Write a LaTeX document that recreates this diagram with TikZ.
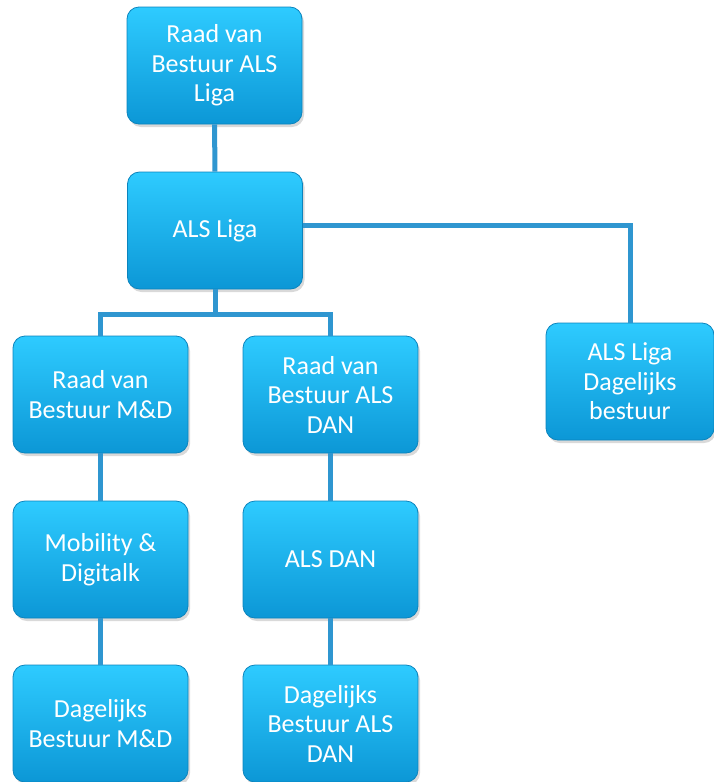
\documentclass[tikz,border=0pt]{standalone}
\usepackage{fontspec}
\setmainfont{Carlito}
\usetikzlibrary{shadows}
\definecolor{boxtop}{HTML}{2ECBFF}
\definecolor{boxbot}{HTML}{0C97D6}
\definecolor{boxedge}{HTML}{0B84BD}
\definecolor{linkblue}{HTML}{2F96D0}

\begin{document}
\begin{tikzpicture}[x=1pt,y=-1pt,
  unit/.style={rounded corners=12pt,top color=boxtop,bottom color=boxbot,draw=boxedge,line width=0.8pt,
    minimum width=175pt,minimum height=117pt,align=center,text=white,
    font=\fontsize{26}{29.5}\selectfont,
    drop shadow={opacity=0.3,shadow xshift=2pt,shadow yshift=-3pt}},
  link/.style={draw=linkblue,line width=5pt}]
  \useasboundingbox (0,0) rectangle (714,782);
  \node[unit] (rvb) at (214.5,65.5) {Raad van\\Bestuur ALS\\Liga};
  \node[unit] (liga) at (215,230.5) {ALS Liga};
  \node[unit] (rvbmd) at (100.5,394.5) {Raad van\\Bestuur M\&D};
  \node[unit] (rvbdan) at (330.5,394.5) {Raad van\\Bestuur ALS\\DAN};
  \node[unit,minimum width=168pt] (db) at (630,381.5) {ALS Liga\\Dagelijks\\bestuur};
  \node[unit] (md) at (100.5,559.5) {Mobility \&\\Digitalk};
  \node[unit] (dan) at (330.5,559.5) {ALS DAN};
  \node[unit] (dbmd) at (100.5,723.5) {Dagelijks\\Bestuur M\&D};
  \node[unit] (dbdan) at (330.5,723.5) {Dagelijks\\Bestuur ALS\\DAN};
  \path[link]
    (rvb) edge (liga)
    (rvbmd) edge (md)
    (md) edge (dbmd)
    (rvbdan) edge (dan)
    (dan) edge (dbdan);
  \draw[link] (liga.south) -- ++(0,25) coordinate (fork) -| (rvbmd.north);
  \draw[link] (fork) -| (rvbdan.north);
  \draw[link] ([yshift=5pt]liga.east) -| (db.north);
\end{tikzpicture}
\end{document}
